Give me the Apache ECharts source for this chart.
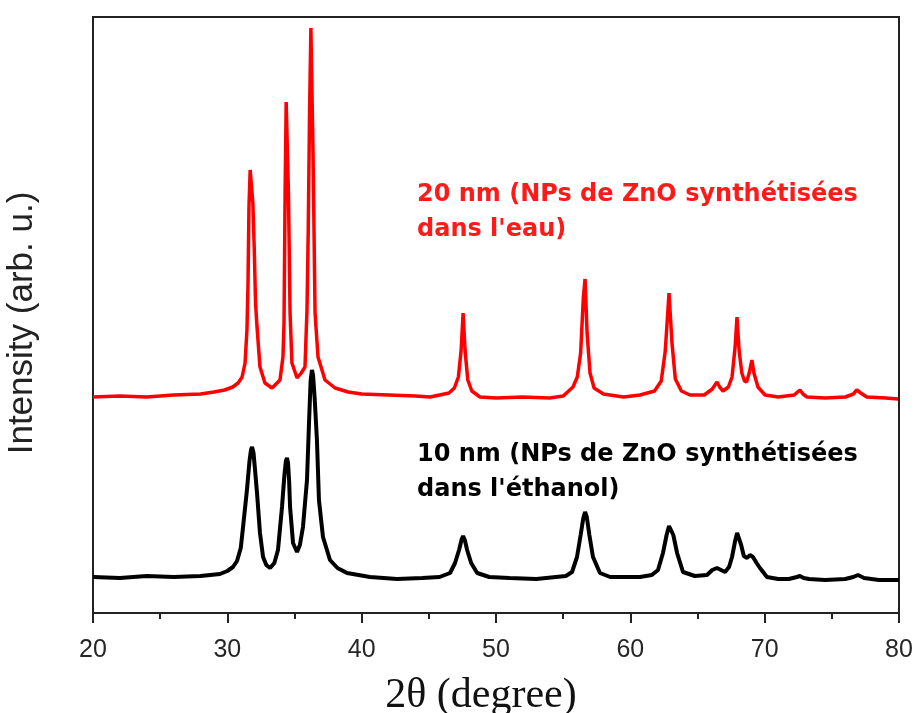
<!DOCTYPE html>
<html>
<head>
<meta charset="utf-8">
<script src="https://cdn.jsdelivr.net/npm/echarts@6/dist/echarts.min.js"></script>
<style>
html,body{margin:0;padding:0;background:#fff;}
#chart{width:915px;height:713px;}
</style>
</head>
<body>
<div id="chart"></div>
<script>
// X axis
var xMin = 20, xMax = 80, xStep = 10;

// 20 nm sample (red), 2θ positions and intensities (arb. u., offset trace)
var twoThetaRed = [20.0,22,24,26,28,29.0,29.8,30.4,30.8,31.1,31.32,31.46,31.54,31.61,31.70,31.80,31.90,32.0,32.1,32.21,32.43,32.8,33.33,33.92,34.14,34.22,34.30,34.38,34.46,34.55,34.67,34.81,35.19,35.5,35.78,35.93,36.02,36.12,36.22,36.30,36.38,36.53,36.75,37.27,38.02,39,40,42,44,45.1,46.5,46.9,47.2,47.4,47.55,47.7,47.9,48.2,48.81,50,52,54,55,55.73,56.05,56.3,56.5,56.63,56.78,57.0,57.3,58.0,58.49,59.5,60.72,61.8,62.3,62.6,62.88,63.1,63.35,63.8,64.44,65.5,66.1,66.3,66.45,66.65,66.9,67.3,67.57,67.8,67.94,68.1,68.3,68.5,68.65,68.85,69.05,69.2,69.5,70.03,71,72.2,72.45,72.63,72.85,73.15,74.5,76,76.6,76.85,76.95,77.15,77.6,79,79.93];
var intensityRed = [216,217,216,218,219,221,223,226,230,236,250,283,330,406,443,443,410,366,310,286,246,230,225,233,256,290,420,511,511,420,300,250,235,240,246,303,380,500,585,585,460,300,256,233,225,221,219,218,217,216,220,225,236,262,300,262,233,222,216,215,216,215,217,226,236,260,315,334,280,240,225,219,218,216,218,222,232,262,320,270,234,222,218,218,224,228,231,226,222,226,236,266,296,262,240,232,231,240,253,240,226,218,216,218,221,223,219,216,215,216,219,223,225,220,216,215,214];

// 10 nm sample (black)
var twoThetaBlack = [20.0,22,24,26,28,29.45,30.0,30.42,30.72,31.0,31.17,31.46,31.65,31.76,31.84,31.95,32.05,32.21,32.43,32.66,32.9,33.18,33.5,33.77,34.07,34.25,34.36,34.44,34.52,34.6,34.67,34.89,35.19,35.4,35.63,35.93,36.08,36.2,36.3,36.38,36.5,36.67,36.82,37.12,37.64,38.2,38.91,40.62,42.63,44.5,45.8,46.58,46.95,47.25,47.45,47.55,47.68,47.85,48.15,48.6,49.5,51,53,55.2,55.66,56.03,56.3,56.5,56.63,56.76,56.95,57.22,57.74,58.5,60.72,61.6,62.06,62.43,62.7,62.88,62.98,63.2,63.48,63.92,64.8,65.71,66.1,66.45,66.75,67.05,67.35,67.57,67.8,67.95,68.05,68.25,68.45,68.69,68.9,69.13,69.4,69.65,70.17,71,71.8,72.4,72.63,72.9,73.3,74.5,76,76.6,76.95,77.4,78.5,80];
var intensityBlack = [36,35,37,36,37,39,42,46,52,65,86,123,152,163,166,160,145,120,80,56,48,45,50,63,106,138,152,155,150,132,106,70,61,68,86,133,190,232,243,238,215,173,113,76,53,45,40,36,34,35,36,40,50,63,74,77,73,63,50,40,36,35,34,37,41,56,78,95,101,96,78,56,40,36,36,38,43,60,78,87,88,78,60,41,37,38,43,45,43,41,46,56,72,80,81,68,57,55,58,56,50,45,36,34,34,36,37,35,34,33,34,36,38,35,33,33];

var labelRed = ["20 nm (NPs de ZnO synthétisées", "dans l'eau)"];
var labelBlack = ["10 nm (NPs de ZnO synthétisées", "dans l'éthanol)"];
var xTitle = "2θ (degree)";
var yTitle = "Intensity (arb. u.)";

function pairs(xs, ys){ return xs.map(function(x,i){ return [x, ys[i]]; }); }

var chart = echarts.init(document.getElementById('chart'), null, {renderer:'canvas'});
chart.setOption({
  animation:false,
  backgroundColor:'#fff',
  grid:{left:93, right:16, top:17, bottom:100, containLabel:false, outerBoundsMode:'none',
        show:true, borderColor:'#222', borderWidth:2, backgroundColor:'transparent'},
  xAxis:{
    type:'value', min:xMin, max:xMax, interval:xStep,
    name:xTitle, nameLocation:'middle', nameGap:62,
    nameTextStyle:{fontFamily:'Liberation Serif', fontSize:42, color:'#111', padding:[0,30,0,0]},
    axisLine:{show:true, lineStyle:{color:'#222', width:2}},
    axisTick:{show:true, inside:false, length:10, lineStyle:{color:'#222', width:2}},
    minorTick:{show:true, splitNumber:2, length:6, lineStyle:{color:'#222', width:2}},
    axisLabel:{fontFamily:'Liberation Sans', fontSize:25, color:'#262626', margin:25},
    splitLine:{show:false}
  },
  yAxis:{
    type:'value', min:0, max:596,
    name:yTitle, nameLocation:'middle', nameGap:53,
    nameTextStyle:{fontFamily:'Liberation Sans', fontSize:35, color:'#222', padding:[0,16,0,0]},
    axisLine:{show:true, lineStyle:{color:'#222', width:2}},
    axisTick:{show:false}, axisLabel:{show:false}, splitLine:{show:false}
  },
  series:[
    {type:'line', data:pairs(twoThetaRed, intensityRed), showSymbol:false, symbol:'none',
     lineStyle:{color:'#ff0000', width:3.5}, z:2},
    {type:'line', data:pairs(twoThetaBlack, intensityBlack), showSymbol:false, symbol:'none',
     lineStyle:{color:'#000000', width:4}, z:3}
  ],
  graphic:[
    {type:'text', left:417, top:177, style:{text:labelRed.join('\n'), font:'bold 24px "DejaVu Sans"', fill:'#ff1a1a', lineHeight:35}},
    {type:'text', left:417, top:437, style:{text:labelBlack.join('\n'), font:'bold 24px "DejaVu Sans"', fill:'#000', lineHeight:35}}
  ]
});
</script>
</body>
</html>
